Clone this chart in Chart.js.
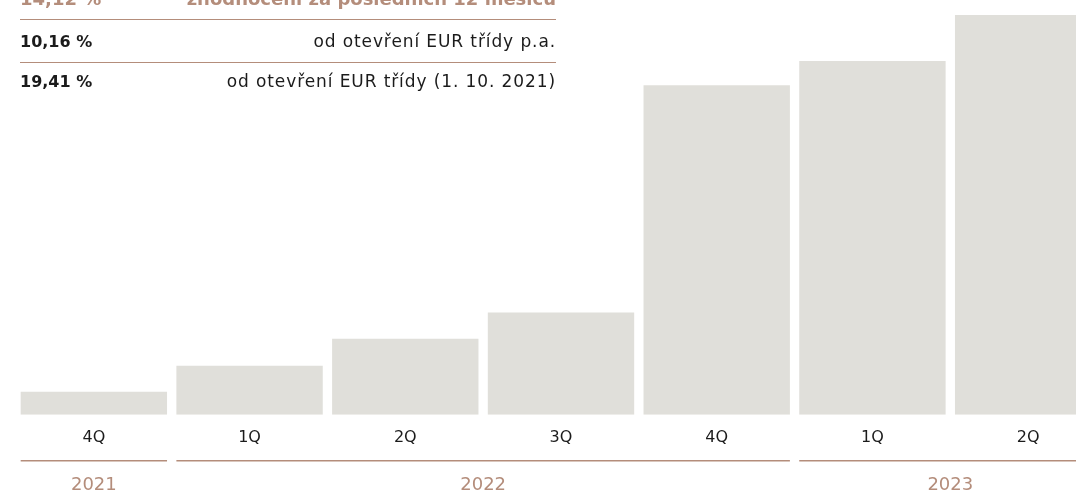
<!DOCTYPE html>
<html>
<head>
<meta charset="utf-8">
<script src="https://cdn.jsdelivr.net/npm/chart.js@4.4.0/dist/chart.umd.min.js"></script>
<style>
  html, body { margin: 0; padding: 0; background: #fff; overflow: hidden; }
  #wrap { position: relative; width: 1076px; height: 496px; overflow: hidden; }
  #box { position: absolute; left: 0; top: 0; width: 1110px; height: 496px; }
  .stats { position: absolute; left: 20px; top: -23px; width: 536px; font-family: "DejaVu Sans", sans-serif; }
  .row { display: flex; justify-content: space-between; align-items: center; height: 42px; border-bottom: 1.5px solid #b48d7b; font-size: 17px; color: #1b1b1b; }
  .row span { letter-spacing: 0.9px; }
  .row:last-child { border-bottom: none; height: 36px; }
  .row b { font-weight: 700; font-size: 16px; }
  .row.head { color: #b48d7b; font-weight: 700; font-size: 18px; }
  .row.head span { letter-spacing: 0; }
</style>
</head>
<body>
<div id="wrap">
  <div id="box"><canvas id="chart"></canvas></div>
  <div class="stats">
    <div class="row head"><span>14,12 %</span><span>zhodnocení za posledních 12 měsíců</span></div>
    <div class="row"><b>10,16 %</b><span>od otevření EUR třídy p.a.</span></div>
    <div class="row"><b>19,41 %</b><span>od otevření EUR třídy (1. 10. 2021)</span></div>
  </div>
</div>
<script>
// categories and values (bar heights)
const quarters = ['4Q', '1Q', '2Q', '3Q', '4Q', '1Q', '2Q'];
const values = [23, 49, 76, 102, 329, 353, 399];
// year groups: first and last category index
const years = ['2021', '2022', '2023'];
const yearFrom = [0, 1, 5];
const yearTo = [0, 4, 6];

const BROWN = '#b48d7b';

// draws the brown line + year under each group of quarters
const yearGroups = {
  id: 'yearGroups',
  afterDraw(chart) {
    const { ctx, chartArea } = chart;
    const meta = chart.getDatasetMeta(0);
    ctx.save();
    years.forEach((yr, i) => {
      const a = meta.data[yearFrom[i]];
      const b = meta.data[yearTo[i]];
      const left = a.x - a.width / 2;
      const right = b.x + b.width / 2;
      const lineY = chartArea.bottom + 46;
      ctx.strokeStyle = BROWN;
      ctx.lineWidth = 1.5;
      ctx.beginPath();
      ctx.moveTo(left, lineY);
      ctx.lineTo(right, lineY);
      ctx.stroke();
      ctx.fillStyle = BROWN;
      ctx.font = '18px "DejaVu Sans", sans-serif';
      ctx.textAlign = 'center';
      ctx.textBaseline = 'middle';
      ctx.fillText(yr, (left + right) / 2, lineY + 25);
    });
    ctx.restore();
  }
};

new Chart(document.getElementById('chart'), {
  type: 'bar',
  data: {
    labels: quarters,
    datasets: [{
      data: values,
      backgroundColor: '#e0dfda',
      barPercentage: 0.94,
      categoryPercentage: 1
    }]
  },
  options: {
    responsive: true,
    maintainAspectRatio: false,
    animation: false,
    layout: { padding: { left: 16, right: 4, top: 15, bottom: 36 } },
    plugins: { legend: { display: false }, tooltip: { enabled: false } },
    scales: {
      x: {
        grid: { display: false, drawTicks: false },
        border: { display: false },
        ticks: { color: '#1b1b1b', padding: 13, font: { family: 'DejaVu Sans', size: 16 } }
      },
      y: { display: false, min: 0, max: 399 }
    }
  },
  plugins: [yearGroups]
});
</script>
</body>
</html>
